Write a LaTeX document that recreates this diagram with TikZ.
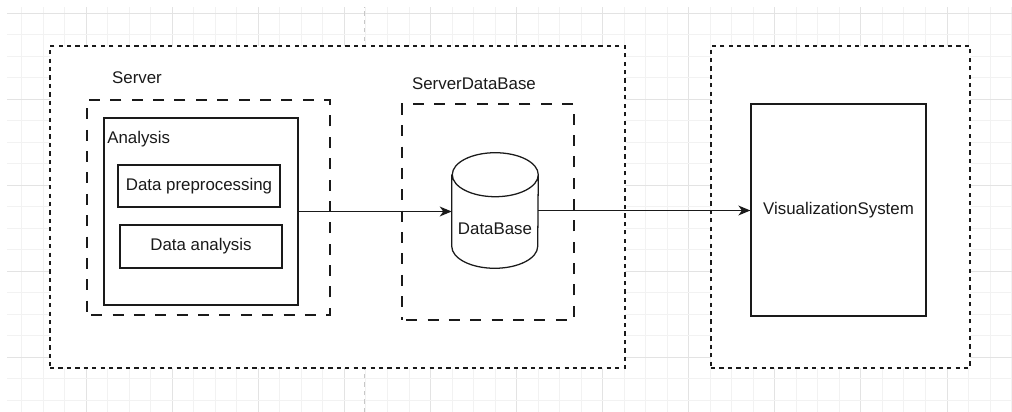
\documentclass[tikz,border=0pt]{standalone}
\usepackage{fontspec}
\setmainfont{Liberation Sans}
\usepackage{xcolor}
\usepackage{tikz}
\usetikzlibrary{arrows.meta,positioning,calc}
\definecolor{gridminor}{HTML}{F2F2F2}
\definecolor{gridmajor}{HTML}{E3E3E3}
\definecolor{ink}{HTML}{1A1A1A}
\tikzset{
  outerbox/.style={draw=ink, fill=white, line width=0.9pt,
                   dash pattern=on 3pt off 3pt, inner sep=0pt},
  groupbox/.style={draw=ink, line width=0.9pt,
                   dash pattern=on 7.8pt off 7.4pt, dash phase=-3pt, inner sep=0pt},
  plainbox/.style={draw=ink, fill=white, line width=0.9pt, inner sep=0pt},
  lbl/.style={font=\fontsize{12}{14}\selectfont, inner sep=0pt, text=ink},
  flow/.style={draw=ink, line width=1pt,
               -{Stealth[length=8.5pt, width=7pt, inset=2.5pt]}},
}
\begin{document}
\begin{tikzpicture}
  \useasboundingbox (0,0) rectangle (25.3,10.3);
  % grid of the drawing page
  \foreach \k in {1,...,47} {
    \pgfmathtruncatemacro{\m}{mod(\k,4)}
    \ifnum\m=0 \def\gc{gridmajor}\else \def\gc{gridminor}\fi
    \draw[\gc, line width=0.5pt] (0.538*\k,0) -- (0.538*\k,10.125);
  }
  \foreach \k in {0,...,18} {
    \pgfmathtruncatemacro{\m}{mod(\k,4)}
    \ifnum\m=0 \def\gc{gridmajor}\else \def\gc{gridminor}\fi
    \draw[\gc, line width=0.5pt] (0.175,9.9675-0.5375*\k) -- (25.3,9.9675-0.5375*\k);
  }
  \draw[black!22, dashed, line width=0.6pt] (9.1,0) -- (9.1,10.125);

  % outer frames
  \node[outerbox, minimum width=14.375cm, minimum height=8.05cm] (srvside) at (8.4375,5.125) {};
  \node[outerbox, minimum width=6.475cm, minimum height=8.05cm] (visside) at (21.0125,5.125) {};

  % server group
  \node[groupbox, minimum width=6.075cm, minimum height=5.375cm] (server) at (5.2125,5.1125) {};
  \node[lbl] (serverlbl) at (3.425,8.35) {Server};
  \node[plainbox, minimum width=4.85cm, minimum height=4.675cm] (analysis) at (5.025,5.0125) {};
  \node[lbl, anchor=west] (analysislbl) at (2.675,6.825) {Analysis};
  \node[plainbox, lbl, minimum width=4.05cm, minimum height=1.05cm] (prep) at (4.975,5.65) {Data preprocessing};
  \node[plainbox, lbl, minimum width=4.05cm, minimum height=1.075cm] (dana) at (5.025,4.1375) {Data analysis};

  % database group
  \node[groupbox, minimum width=4.3cm, minimum height=5.4cm] (sdb) at (12.2,5.0) {};
  \node[lbl] (sdblbl) at (11.85,8.2) {ServerDataBase};
  \node[minimum width=2.15cm, minimum height=2.875cm, inner sep=0pt] (db) at (12.375,5.0375) {};
  \draw[draw=ink, fill=white, line width=0.9pt]
    ([yshift=-0.55cm]db.north west) -- ([yshift=0.55cm]db.south west)
    arc[start angle=180, end angle=360, x radius=1.075cm, y radius=0.55cm]
    -- ([yshift=-0.55cm]db.north east)
    arc[start angle=0, end angle=360, x radius=1.075cm, y radius=0.55cm];
  \node[lbl] (dblbl) at (12.375,4.575) {DataBase};

  % visualization
  \node[plainbox, lbl, minimum width=4.375cm, minimum height=5.3cm] (vis) at (20.9625,5.05) {VisualizationSystem};

  \draw[flow] (analysis.east) -- (analysis.east -| db.west);
  \draw[flow] (db.east) -- (db.east -| vis.west);
\end{tikzpicture}
\end{document}
